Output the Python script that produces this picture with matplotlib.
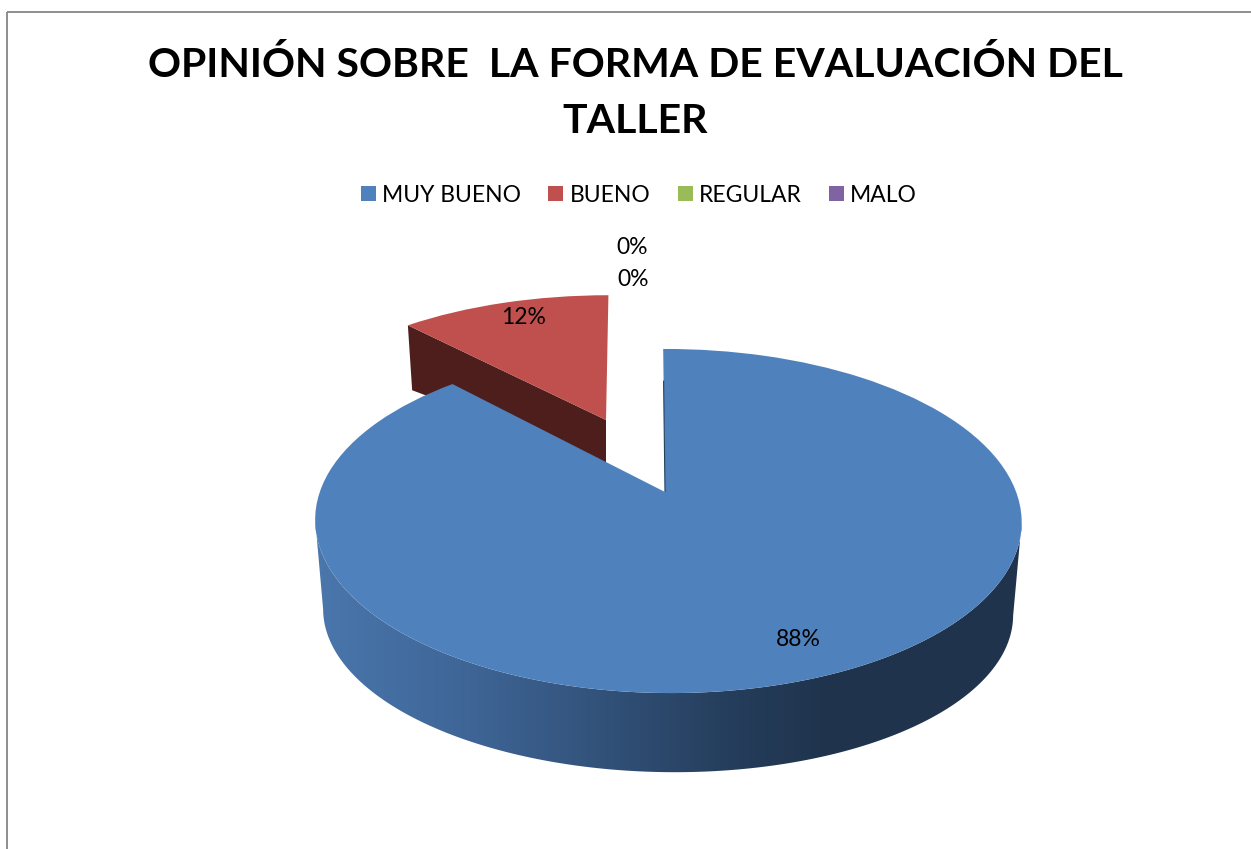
import numpy as np
import matplotlib
matplotlib.use("Agg")
import matplotlib.pyplot as plt
from matplotlib.colors import LinearSegmentedColormap
from matplotlib.patches import Patch, Polygon, Rectangle
from matplotlib.transforms import Transform

# datos
categorias = ['MUY BUENO', 'BUENO', 'REGULAR', 'MALO']
valores = [88, 12, 0, 0]
etiquetas = ['88%', '12%', '0%', '0%']
colores = ['#4F81BD', '#C0504D', '#9BBB59', '#8064A2']
titulo = 'OPINIÓN SOBRE  LA FORMA DE EVALUACIÓN DEL\nTALLER'


class Perspectiva(Transform):
    # pasa del circulo unidad del pie a pixeles, con perspectiva
    input_dims = 2
    output_dims = 2
    is_affine = False

    def __init__(self, matriz):
        super().__init__()
        self.matriz = np.array(matriz, dtype=float)

    def transform_non_affine(self, values):
        pts = np.column_stack([values, np.ones(len(values))]) @ self.matriz.T
        return pts[:, :2] / pts[:, 2:]


arriba_azul = Perspectiva([[342.5, 110, 665], [-4.2, -84.2, 492], [-0.0085, 0.1686, 1]])
abajo_azul = Perspectiva([[340, 106, 667], [0, -57, 585], [0, 0.1686, 1]])
arriba_rojo = Perspectiva([[328, 105, 606], [0, -75, 420], [0, 0.1686, 1]])
abajo_rojo = Perspectiva([[321, 105, 606], [0, -34, 463], [0, 0.1686, 1]])

fig = plt.figure(figsize=(12.51, 8.49), dpi=100)
ax = fig.add_axes([0, 0, 1, 1])

wedges, _ = ax.pie(valores, colors=colores, startangle=90, counterclock=False,
                   wedgeprops={'linewidth': 0})

azul, rojo = wedges[0], wedges[1]
azul.set_transform(arriba_azul + ax.transData)
rojo.set_transform(arriba_rojo + ax.transData)
azul.set_zorder(5)
rojo.set_zorder(3)
for w in wedges[2:]:
    w.set_visible(False)


def borde(theta):
    return np.column_stack([np.cos(np.radians(theta)), np.sin(np.radians(theta))])


# pared lateral del azul: degradado segun x, recortado entre los extremos de cada borde
angulos = np.linspace(azul.theta1, azul.theta2, 600)
sup = arriba_azul.transform(borde(angulos))
inf = abajo_azul.transform(borde(angulos))
sup = sup[sup[:, 0].argmin():sup[:, 0].argmax() + 1]
inf = inf[inf[:, 0].argmin():inf[:, 0].argmax() + 1]
x0, x1 = 300, 1030
pos_x = np.array([320, 470, 600, 720, 830, 1030])
grad = ['#4A76AC', '#3E6596', '#32527A', '#263F5E', '#1F334C', '#1F334C']
cmap = LinearSegmentedColormap.from_list('pared', list(zip((pos_x - pos_x[0]) / (pos_x[-1] - pos_x[0]), grad)))
img = ax.imshow(np.linspace(x0, x1, 730)[None, :], extent=(x0, x1, 800, 480), aspect='auto',
                cmap=cmap, vmin=pos_x[0], vmax=pos_x[-1], zorder=4)
pared = Polygon(np.vstack([sup, inf[::-1]]), closed=True, transform=ax.transData, fc='none', ec='none')
ax.add_patch(pared)
img.set_clip_path(pared)

ax.set_aspect('auto')
ax.set_xlim(0, 1251)
ax.set_ylim(849, 0)
ax.axis('off')

# cara interior del rojo
corte = borde(np.array([rojo.theta2]))
lado = np.vstack([[[0, 0]], corte])
s = arriba_rojo.transform(lado)
b = abajo_rojo.transform(lado)
ax.fill([s[0, 0], s[1, 0], b[1, 0], b[0, 0]], [s[0, 1], s[1, 1], b[1, 1], b[0, 1]],
        color='#4D1E1C', lw=0, zorder=2)

# filo oscuro del corte del azul
filo = arriba_azul.transform(borde(np.array([azul.theta2])) * np.array([[0.0], [0.75]]))
ax.plot(filo[:, 0], filo[:, 1], color='#24405F', lw=0.8, zorder=6, snap=False, solid_capstyle='butt')

# porcentajes
pos_etq = [(798, 640), (524, 318), (632, 247), (633, 279)]
for txt, (x, y) in zip(etiquetas, pos_etq):
    ax.text(x, y, txt, ha='center', va='center', fontsize=16.5, family='Lato',
            color='black', zorder=7)

ax.text(635, 93, titulo, ha='center', va='center', fontsize=29.5, family='Lato',
        fontweight='bold', linespacing=1.65, color='black')

handles = [Patch(facecolor=c, edgecolor='none') for c in colores]
ax.legend(handles, categorias, ncol=4, loc='center', bbox_to_anchor=(639 / 1251, 1 - 195 / 849),
          frameon=False, prop={'family': 'Lato', 'size': 16.5}, handlelength=0.65, handleheight=0.65,
          handletextpad=0.27, columnspacing=1.2, borderpad=0)

ax.add_patch(Rectangle((7, 12), 1400, 1000, fill=False, edgecolor='#868686', lw=1.3, zorder=8))

fig.savefig('out.png', dpi=100)
